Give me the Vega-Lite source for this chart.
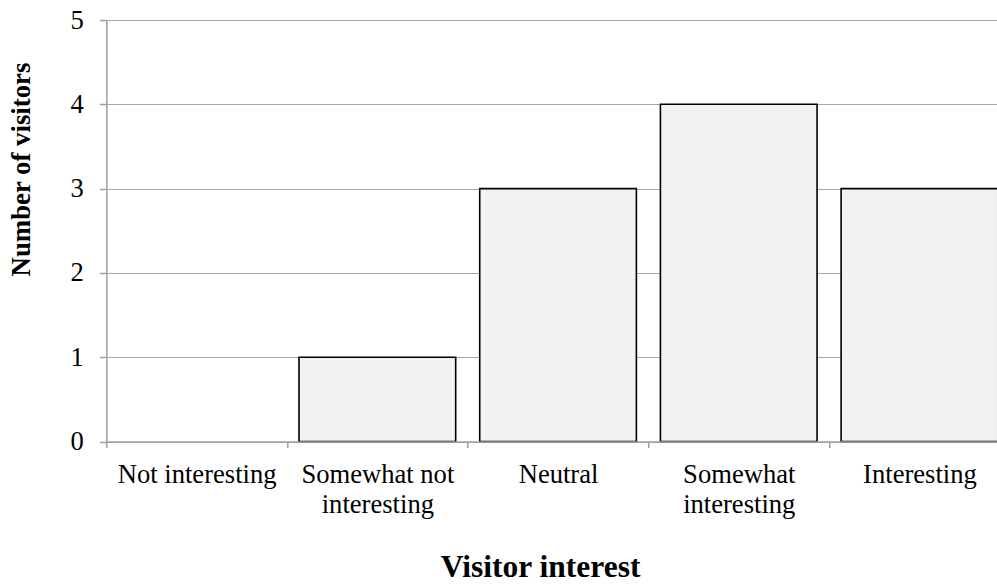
{
  "$schema": "https://vega.github.io/schema/vega-lite/v6.json",
  "autosize": "none",
  "width": 890.7,
  "height": 421.5,
  "padding": {"left": 106.3, "top": 20, "right": 0, "bottom": 142.5},
  "background": "white",
  "config": {
    "font": "Liberation Serif",
    "view": {"stroke": null}
  },
  "data": {
    "values": [
      {"interest": "Not interesting", "visitors": 0},
      {"interest": "Somewhat not interesting", "visitors": 1},
      {"interest": "Neutral", "visitors": 3},
      {"interest": "Somewhat interesting", "visitors": 4},
      {"interest": "Interesting", "visitors": 3}
    ]
  },
  "mark": {"type": "bar", "fill": "#f2f2f2", "stroke": "#000000", "strokeWidth": 1.6, "width": {"band": 0.867}},
  "encoding": {
    "x": {
      "field": "interest",
      "type": "nominal",
      "sort": null,
      "scale": {"paddingInner": 0, "paddingOuter": 0, "range": [0, 903.5]},
      "axis": {
        "title": "Visitor interest",
        "titleFont": "Liberation Serif",
        "titleFontSize": 31.5,
        "titleFontWeight": "bold",
        "titleColor": "#000000",
        "titleX": 433.7,
        "titleY": 135,
        "titleAlign": "center",
        "titleBaseline": "alphabetic",
        "labelAngle": 0,
        "labelFont": "Liberation Serif",
        "labelFontSize": 26.6,
        "labelColor": "#000000",
        "labelBaseline": "alphabetic",
        "labelPadding": 34.5,
        "labelLineHeight": 30,
        "labelLimit": 0,
        "labelOverlap": false,
        "labelExpr": "datum.label == 'Somewhat not interesting' ? ['Somewhat not', 'interesting'] : datum.label == 'Somewhat interesting' ? ['Somewhat', 'interesting'] : datum.label",
        "tickBand": "extent",
        "tickSize": 6,
        "tickColor": "#a0a0a0",
        "tickWidth": 1.5,
        "domainColor": "#a0a0a0",
        "domainWidth": 1.5,
        "grid": false,
        "zindex": 1
      }
    },
    "y": {
      "field": "visitors",
      "type": "quantitative",
      "scale": {"domain": [0, 5], "nice": false},
      "axis": {
        "title": "Number of visitors",
        "titleFont": "Liberation Serif",
        "titleFontSize": 26.8,
        "titleFontWeight": "bold",
        "titleColor": "#000000",
        "titleAngle": -90,
        "titleX": -85,
        "titleY": 149,
        "titleAlign": "center",
        "titleBaseline": "middle",
        "values": [0, 1, 2, 3, 4, 5],
        "labelFont": "Liberation Serif",
        "labelFontSize": 26.6,
        "labelColor": "#000000",
        "labelPadding": 16,
        "labelBaseline": "middle",
        "tickSize": 7,
        "tickColor": "#a0a0a0",
        "tickWidth": 1.5,
        "domainColor": "#a0a0a0",
        "domainWidth": 1.5,
        "grid": true,
        "gridColor": "#a6a6a6",
        "gridWidth": 1.2
      }
    },
    "strokeOpacity": {
      "condition": {"test": "datum.visitors == 0", "value": 0},
      "value": 1
    }
  }
}
